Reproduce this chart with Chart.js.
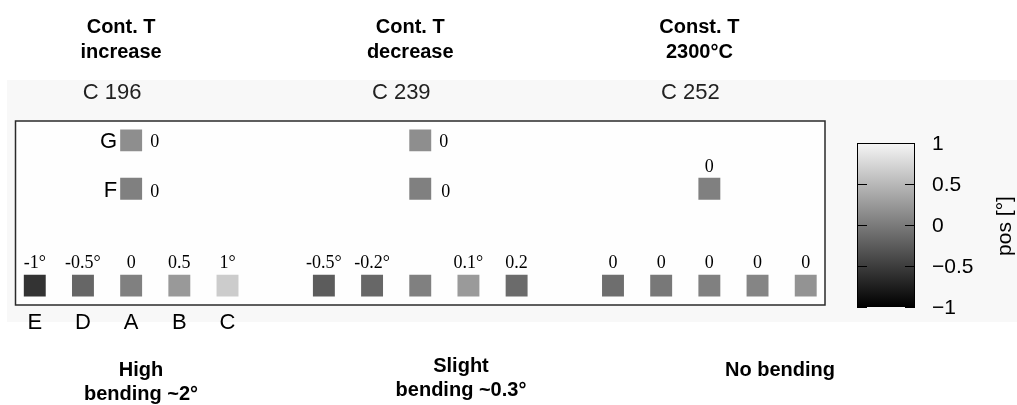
<!DOCTYPE html>
<html><head><meta charset="utf-8">
<script src="https://cdn.jsdelivr.net/npm/chart.js@4.4.0/dist/chart.umd.min.js"></script>
<style>html,body{margin:0;padding:0;background:#fff;} #wrap{position:relative;width:1017px;height:405px;}</style>
</head><body><div id="wrap"><canvas id="c" width="1017" height="405"></canvas></div>
<script>
// ---- data ----
const groupNames = ['C 196', 'C 239', 'C 252'];
const groupTitles = [['Cont. T', 'increase'], ['Cont. T', 'decrease'], ['Const. T', '2300°C']];
const bendingNotes = [['High', 'bending ~2°'], ['Slight', 'bending ~0.3°'], ['No bending']];
const specimenLetters = ['E', 'D', 'A', 'B', 'C'];
const rowLetters = ['F', 'G'];
const bottomPos = [
  [-0.6, -0.2, 0.0, 0.2, 0.6],
  [-0.28, -0.19, 0.0, 0.21, -0.16],
  [-0.14, -0.06, 0.0, 0.04, 0.15]
];
const bottomLabels = [
  ['-1°', '-0.5°', '0', '0.5', '1°'],
  ['-0.5°', '-0.2°', '', '0.1°', '0.2'],
  ['0', '0', '0', '0', '0']
];
const rowFPos = [0.0, 0.0, 0.0];
const rowFLabels = ['0', '0', '0'];
const rowGPos = [0.11, 0.11, null];
const rowGLabels = ['0', '0', ''];
const colorbarTicks = [1, 0.5, 0, -0.5, -1];
const colorbarTickLabels = ['1', '0.5', '0', '\u22120.5', '\u22121'];
const colorbarTitle = 'pos [°]';

// ---- layout helpers ----
const SLOTS_PER_GROUP = 6;
const ROW_Y = { bottom: 0, F: 2, G: 3 };
function gray(v) {
  const g = Math.round(Math.max(0, Math.min(1, (v + 1) / 2)) * 255);
  return 'rgb(' + g + ',' + g + ',' + g + ')';
}
function slotX(g, i) { return g * SLOTS_PER_GROUP + i; }

const bottomData = [], bottomColors = [];
bottomPos.forEach((arr, g) => arr.forEach((v, i) => { bottomData.push({ x: slotX(g, i), y: ROW_Y.bottom }); bottomColors.push(gray(v)); }));
const fData = [], fColors = [];
rowFPos.forEach((v, g) => { if (v !== null) { fData.push({ x: slotX(g, 2), y: ROW_Y.F }); fColors.push(gray(v)); } });
const gData = [], gColors = [];
rowGPos.forEach((v, g) => { if (v !== null) { gData.push({ x: slotX(g, 2), y: ROW_Y.G }); gColors.push(gray(v)); } });

const SANS = '"Liberation Sans", Arial, sans-serif';
const SERIF = '"Liberation Serif", "Times New Roman", serif';
const notePos = [141, 461, 780];
const noteBase = [[376, 400], [372, 396], [376]];

const deco = {
  id: 'deco',
  beforeDraw(chart) {
    const ctx = chart.ctx, a = chart.chartArea;
    ctx.save();
    ctx.fillStyle = '#ffffff';
    ctx.fillRect(0, 0, chart.width, chart.height);
    ctx.fillStyle = '#f8f8f8';
    ctx.fillRect(7, 80, chart.width - 7, 242);
    ctx.fillStyle = '#fefefe';
    ctx.fillRect(a.left, a.top, a.right - a.left, a.bottom - a.top);
    ctx.restore();
  },
  afterDatasetsDraw(chart) {
    const ctx = chart.ctx, a = chart.chartArea;
    const xs = chart.scales.x, ys = chart.scales.y;
    ctx.save();
    // plot frame
    ctx.strokeStyle = '#2a2a2a';
    ctx.lineWidth = 1.5;
    ctx.strokeRect(a.left, a.top, a.right - a.left, a.bottom - a.top);

    ctx.fillStyle = '#000';
    // group titles and names
    groupTitles.forEach((lines, g) => {
      const cx = xs.getPixelForValue(slotX(g, 2));
      ctx.font = 'bold 20px ' + SANS;
      ctx.textAlign = 'center';
      ctx.textBaseline = 'alphabetic';
      ctx.fillText(lines[0], cx - 10, 33);
      ctx.fillText(lines[1], cx - 10, 58);
      ctx.font = '22px ' + SANS;
      ctx.fillStyle = '#222';
      ctx.fillText(groupNames[g], cx - 19, 99);
      ctx.fillStyle = '#000';
    });
    // bottom row value labels
    ctx.font = '18px ' + SERIF;
    ctx.textAlign = 'center';
    const by = ys.getPixelForValue(ROW_Y.bottom);
    bottomLabels.forEach((arr, g) => arr.forEach((t, i) => {
      if (!t) return;
      ctx.fillText(t, xs.getPixelForValue(slotX(g, i)), by - 18);
    }));
    // F / G labels
    const fy = ys.getPixelForValue(ROW_Y.F), gy = ys.getPixelForValue(ROW_Y.G);
    rowFLabels.forEach((t, g) => {
      if (!t) return;
      const px = xs.getPixelForValue(slotX(g, 2));
      if (rowGPos[g] === null) {
        ctx.textAlign = 'center';
        ctx.fillText(t, px, fy - 17);
      } else {
        ctx.textAlign = 'left';
        ctx.fillText(t, px + 19 + g * 2, fy + 8);
      }
    });
    rowGLabels.forEach((t, g) => {
      if (!t) return;
      const px = xs.getPixelForValue(slotX(g, 2));
      ctx.textAlign = 'left';
      ctx.fillText(t, px + 19, gy + 7);
    });
    // row letters (first group)
    ctx.font = '22px ' + SANS;
    ctx.textAlign = 'right';
    const px0 = xs.getPixelForValue(slotX(0, 2));
    ctx.fillText(rowLetters[0], px0 - 14, fy + 8);
    ctx.fillText(rowLetters[1], px0 - 14, gy + 8);
    // specimen letters under first group
    ctx.textAlign = 'center';
    specimenLetters.forEach((t, i) => {
      ctx.fillText(t, xs.getPixelForValue(slotX(0, i)), 329);
    });
    // bending notes
    ctx.font = 'bold 20px ' + SANS;
    bendingNotes.forEach((lines, g) => {
      lines.forEach((t, k) => ctx.fillText(t, notePos[g], noteBase[g][k]));
    });

    // colorbar
    const cbL = 857, cbR = 915, cbT = 143, cbB = 307;
    const grad = ctx.createLinearGradient(0, cbB, 0, cbT);
    grad.addColorStop(0, '#000000');
    grad.addColorStop(1, '#f6f6f6');
    ctx.fillStyle = grad;
    ctx.fillRect(cbL, cbT, cbR - cbL, cbB - cbT);
    ctx.strokeStyle = '#000';
    ctx.lineWidth = 1;
    ctx.strokeRect(cbL + 0.5, cbT + 0.5, cbR - cbL - 1, cbB - cbT - 1);
    const cbY = v => cbB - (v + 1) / 2 * (cbB - cbT);
    ctx.font = '21px ' + SANS;
    ctx.textAlign = 'left';
    ctx.textBaseline = 'middle';
    ctx.fillStyle = '#000';
    colorbarTicks.forEach((v, k) => {
      const y = Math.round(cbY(v)) + 0.5;
      ctx.beginPath();
      ctx.moveTo(cbL, y); ctx.lineTo(cbL + 10, y);
      ctx.moveTo(cbR - 10, y); ctx.lineTo(cbR, y);
      ctx.stroke();
      ctx.fillText(colorbarTickLabels[k], 932, y + 1);
    });
    ctx.save();
    ctx.translate(1005, 226);
    ctx.rotate(-Math.PI / 2);
    ctx.textAlign = 'center';
    ctx.fillText(colorbarTitle, 0, 0);
    ctx.restore();
    ctx.restore();
  }
};

const common = { pointStyle: 'rect', pointRadius: 15.5, pointHoverRadius: 15.5, borderWidth: 0, showLine: false };
new Chart(document.getElementById('c'), {
  type: 'scatter',
  data: {
    datasets: [
      Object.assign({ label: 'bottom', data: bottomData, backgroundColor: bottomColors, pointBackgroundColor: bottomColors }, common),
      Object.assign({ label: 'F', data: fData, backgroundColor: fColors, pointBackgroundColor: fColors }, common),
      Object.assign({ label: 'G', data: gData, backgroundColor: gColors, pointBackgroundColor: gColors }, common)
    ]
  },
  options: {
    responsive: false,
    animation: false,
    events: [],
    layout: { padding: { left: 14, right: 192, top: 121, bottom: 100 } },
    plugins: { legend: { display: false }, tooltip: { enabled: false } },
    scales: {
      x: { type: 'linear', min: -0.4, max: 16.4, display: false },
      y: { type: 'linear', min: -0.4, max: 3.4, display: false }
    }
  },
  plugins: [deco]
});
</script>
</body></html>
